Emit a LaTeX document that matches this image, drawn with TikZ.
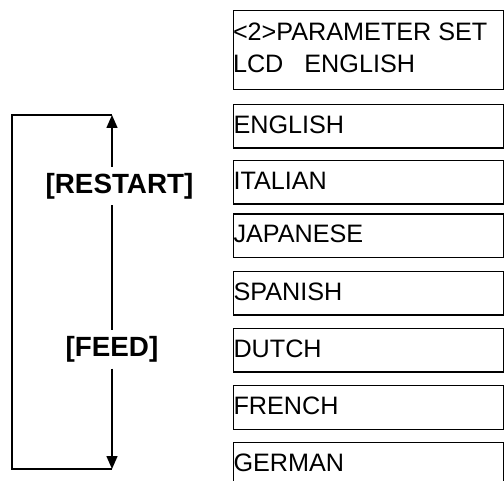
\documentclass[tikz,border=0pt]{standalone}
\usepackage{fontspec}
\setmainfont{Liberation Sans}
\usetikzlibrary{arrows.meta}
\begin{document}
\begin{tikzpicture}[x=1pt,y=-1pt,
  boxfont/.style={font=\fontsize{25.2}{32}\selectfont},
  lbox/.style={draw, line width=1.4pt, anchor=north west, inner xsep=0.3pt, inner ysep=0pt,
    text width=269.9pt, text height=28.5pt, text depth=15pt, align=left, boxfont},
  keylabel/.style={font=\bfseries\fontsize{27.8}{32}\selectfont, inner xsep=2pt, inner ysep=6pt, anchor=base},
  loopline/.style={line width=1.4pt},
  tip/.style={-{Triangle[length=13pt,width=11pt]}}]
\clip (0,0) rectangle (504,481);
% header box
\node[draw, line width=1.4pt, anchor=north west, minimum width=270.5pt, minimum height=79pt, inner sep=0pt] (hdr) at (232.5,10) {};
\node[boxfont, anchor=base west, inner sep=0.3pt] (hdr1) at (232.5,40.5) {<2>PARAMETER SET};
\node[boxfont, anchor=base west, inner sep=0.3pt] (hdr2) at (232.5,72.5) {LCD\ \ \ ENGLISH};
% language boxes
\node[lbox] (en) at (232.5,104) {ENGLISH};
\node[lbox] (it) at (232.5,160) {ITALIAN};
\node[lbox] (ja) at (232.5,213.5) {JAPANESE};
\node[lbox] (es) at (232.5,271) {SPANISH};
\node[lbox] (nl) at (232.5,328) {DUTCH};
\node[lbox] (fr) at (232.5,385) {FRENCH};
\node[lbox] (de) at (232.5,442) {GERMAN};
% key labels
\node[keylabel] (restart) at (119.5,193.3) {[RESTART]};
\node[keylabel] (feed) at (112,356.7) {[FEED]};
% loop
\coordinate (top) at (112,115);
\coordinate (bottom) at (112,469);
\coordinate (tl) at (12,115);
\coordinate (bl) at (12,469);
\draw[loopline] (bottom) -- (bl) -- (tl) -- (top);
\draw[loopline,tip] (top |- restart.north) -- (top);
\draw[loopline] (top |- restart.south) -- (top |- feed.north);
\draw[loopline,tip] (top |- feed.south) -- (bottom);
\end{tikzpicture}
\end{document}
